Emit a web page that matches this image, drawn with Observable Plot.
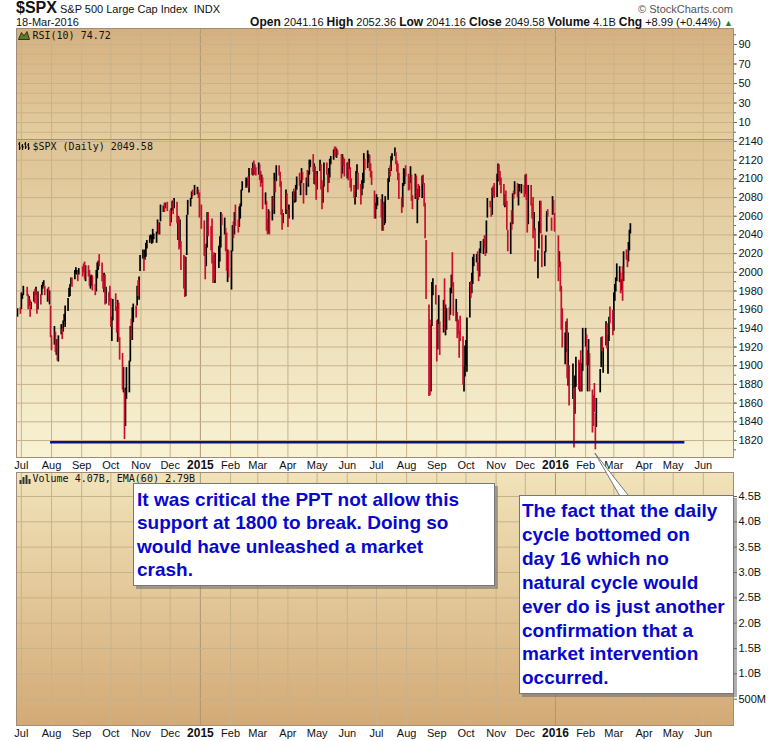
<!DOCTYPE html>
<html>
<head>
<meta charset="utf-8">
<script src="https://cdn.jsdelivr.net/npm/d3@7"></script>
<script src="https://cdn.jsdelivr.net/npm/@observablehq/plot@0.6"></script>
<style>
  html,body{margin:0;padding:0;background:#fff;}
  #wrap{position:relative;width:780px;height:741px;overflow:hidden;font-family:"Liberation Sans",Arial,sans-serif;color:#111;}
  .abs{position:absolute;white-space:nowrap;}
  .note{position:absolute;background:#fff;border:1px solid #777;box-shadow:3px 3px 0 rgba(110,110,110,0.55);color:#0808cc;font-weight:bold;font-size:19px;font-family:"Liberation Sans",Arial,sans-serif;box-sizing:border-box;}
  .note div{white-space:nowrap;}
</style>
</head>
<body>
<div id="wrap"></div>
<script>
// ---------------- data ----------------
const symbol = "$SPX";
const indexName = "S&P 500 Large Cap Index";
const exchange = "INDX";
const asOf = "18-Mar-2016";
const quoteLabels = ["Open", "High", "Low", "Close", "Volume", "Chg"];
const quoteValues = ["2041.16", "2052.36", "2041.16", "2049.58", "4.1B", "+8.99 (+0.44%)"];
const rsiLabel = "RSI(10) 74.72";
const priceLabel = "$SPX (Daily) 2049.58";
const volumeLabel = "Volume 4.07B, EMA(60) 2.79B";

const firstDay = "2014-06-27";
const lastDay = "2016-03-18";
const holidays = ["2014-07-04","2014-09-01","2014-11-27","2014-12-25","2015-01-01","2015-01-19","2015-02-16","2015-04-03","2015-05-25","2015-07-03","2015-09-07","2015-11-26","2015-12-25","2016-01-01","2016-01-18","2016-02-15"];

// daily highs, lows, closes (one line per month)
const highs = [
1961,1962,
1978,1976,1985,1984,1976,1974,1970,1968,1979,1982,1984,1979,1979,1976,1986,1989,1991,1985,1982,1984,1980,1964,
1932,1942,1936,1928,1928,1932,1944,1939,1948,1955,1964,1972,1983,1987,1994,1994,2002,2005,2002,1998,2004,
2006,2009,2011,2007,2007,2002,1996,1997,1996,1987,2002,2010,2012,2019,2010,1995,1999,1997,1984,1978,1985,
1972,1952,1971,1977,1963,1970,1967,1930,1913,1898,1874,1876,1898,1905,1942,1950,1962,1966,1964,1985,1991,1995,2018,
2024,2015,2024,2031,2034,2039,2040,2039,2046,2041,2043,2056,2052,2053,2072,2071,2074,2074,2075,
2066,2068,2076,2077,2079,2075,2060,2059,2056,2033,2018,2017,2016,2061,2077,2079,2086,2088,2093,2091,2088,2085,
2072,2055,2030,2030,2064,2064,2049,2057,2018,2021,2020,2028,2038,2064,2062,2058,2047,2042,2024,2023,
2023,2050,2054,2064,2072,2056,2070,2073,2088,2097,2101,2100,2102,2111,2111,2117,2119,2115,2112,
2117,2115,2108,2104,2101,2085,2076,2057,2067,2065,2081,2080,2106,2098,2114,2114,2107,2097,2067,2063,2088,2084,
2067,2072,2086,2089,2086,2093,2102,2106,2098,2111,2107,2095,2101,2109,2108,2120,2120,2126,2116,2113,2105,
2108,2120,2115,2098,2092,2117,2117,2105,2111,2121,2124,2131,2134,2134,2132,2130,2126,2126,2123,2121,
2117,2118,2121,2112,2100,2093,2085,2108,2115,2106,2094,2098,2106,2127,2121,2130,2126,2125,2116,2108,2087,2074,
2083,2080,2078,2083,2074,2075,2081,2100,2111,2114,2124,2127,2133,2128,2119,2116,2106,2080,2095,2111,2110,2114,
2105,2102,2113,2104,2082,2105,2103,2089,2094,2092,2103,2104,2095,2074,2034,1965,1949,1943,1989,1993,1986,
1948,1949,1975,1947,1970,1993,1965,1961,1962,1983,1997,2021,1989,1971,1957,1949,1937,1953,1931,1899,1921,
1927,1951,1989,1990,1999,2016,2019,2019,2022,2010,2025,2033,2035,2039,2039,2055,2079,2076,2070,2090,2092,2095,
2105,2116,2115,2108,2101,2094,2083,2087,2076,2045,2053,2066,2084,2087,2097,2095,2094,2094,2094,2093,
2104,2105,2086,2093,2093,2073,2080,2064,2047,2023,2054,2076,2076,2040,2022,2039,2065,2067,2058,2081,2077,2063,
2039,2022,2011,1985,1961,1935,1947,1950,1935,1900,1902,1876,1889,1909,1906,1903,1916,1902,1940,
1940,1933,1916,1928,1913,1874,1868,1881,1849,1865,1896,1930,1931,1919,1947,1945,1932,1952,1963,1959,
1978,1987,1994,2009,2006,1999,1992,2006,2022,2024,2018,2032,2045,2052
];
const lows = [
1952,1955,
1960,1971,1975,1974,1960,1964,1952,1960,1968,1966,1975,1955,1960,1965,1975,1982,1985,1975,1968,1969,1965,1930,
1916,1922,1914,1911,1905,1904,1933,1928,1936,1947,1941,1958,1973,1974,1987,1984,1992,1998,1997,1990,1997,
1995,1999,1992,1990,1995,1985,1982,1985,1980,1975,1979,1993,2002,2006,1990,1982,1978,1965,1966,1964,1968,
1941,1926,1948,1958,1935,1925,1927,1906,1874,1871,1821,1835,1864,1871,1904,1927,1927,1946,1951,1964,1974,1970,2001,
2014,2001,2013,2016,2025,2031,2035,2030,2031,2035,2031,2041,2040,2040,2054,2064,2064,2068,2065,
2049,2053,2066,2062,2068,2052,2034,2024,2026,2002,1982,1973,1974,2018,2061,2070,2078,2081,2082,2083,2079,2058,
2046,2017,1992,2006,2026,2038,2023,2009,1988,1991,1988,2004,2011,2026,2050,2040,2022,2001,1989,1994,
1981,2022,2036,2040,2049,2042,2048,2057,2070,2087,2090,2092,2090,2085,2104,2103,2109,2104,2103,
2104,2098,2091,2095,2067,2072,2044,2040,2041,2040,2055,2066,2062,2085,2097,2103,2091,2061,2045,2052,2062,2067,
2048,2057,2056,2076,2074,2075,2088,2092,2082,2095,2098,2073,2082,2095,2091,2104,2112,2107,2094,2093,2077,
2088,2108,2088,2067,2074,2091,2104,2085,2095,2101,2115,2120,2124,2123,2122,2125,2100,2105,2113,2102,
2100,2098,2110,2090,2086,2079,2072,2080,2105,2088,2072,2082,2089,2095,2109,2111,2117,2108,2101,2093,2057,2057,
2067,2071,2058,2044,2044,2050,2052,2077,2096,2102,2108,2119,2124,2115,2107,2098,2078,2063,2069,2092,2094,2102,
2087,2088,2095,2076,2067,2078,2080,2052,2077,2080,2079,2094,2070,2036,1971,1867,1868,1872,1942,1975,1965,
1904,1917,1944,1911,1935,1937,1932,1938,1948,1954,1977,1984,1953,1947,1929,1933,1908,1926,1879,1872,1888,
1900,1893,1951,1972,1977,1987,2006,2010,2001,1990,1995,2020,2019,2026,2017,2020,2058,2069,2059,2061,2081,2079,
2080,2097,2098,2093,2084,2071,2069,2074,2045,2022,2019,2045,2051,2078,2083,2080,2071,2086,2084,2080,
2083,2077,2042,2051,2071,2057,2036,2044,2011,1993,2025,2043,2041,2005,2006,2021,2043,2059,2044,2061,2062,2043,
1990,2005,1979,1938,1919,1901,1914,1886,1878,1857,1864,1812,1848,1877,1874,1872,1872,1872,1894,
1920,1900,1872,1900,1872,1828,1835,1850,1810,1834,1871,1898,1915,1892,1921,1918,1891,1926,1945,1932,
1937,1969,1979,1990,1989,1977,1980,1969,1990,2013,2005,2011,2023,2041
];
const closes = [
1961,1960,
1973,1975,1985,1977,1963,1973,1965,1968,1977,1974,1981,1959,1978,1973,1983,1987,1988,1978,1978,1970,1970,1931,
1925,1938,1920,1920,1910,1931,1936,1933,1947,1955,1955,1972,1982,1986,1992,1988,1997,2000,2000,1996,2003,
2002,2000,1998,2007,2001,1988,1996,1997,1985,1984,1999,2001,2011,2010,1994,1982,1998,1965,1982,1977,1972,
1946,1946,1967,1964,1935,1968,1928,1906,1874,1877,1862,1863,1886,1904,1941,1927,1950,1964,1961,1985,1982,1994,2018,
2018,2012,2023,2031,2032,2039,2039,2039,2039,2040,2041,2052,2048,2052,2064,2069,2068,2073,2068,
2054,2066,2074,2071,2075,2060,2060,2026,2035,2002,1990,1973,2013,2061,2071,2078,2083,2081,2089,2091,2080,2059,
2058,2021,2003,2026,2062,2045,2029,2024,2012,1993,2019,2023,2032,2063,2052,2057,2029,2002,2021,1995,
2021,2050,2041,2063,2055,2047,2069,2069,2088,2097,2100,2100,2098,2110,2109,2116,2114,2111,2105,
2117,2108,2099,2101,2071,2079,2044,2040,2065,2053,2081,2075,2099,2089,2108,2104,2092,2062,2057,2061,2086,2068,
2060,2067,2081,2076,2082,2091,2102,2092,2095,2106,2105,2081,2100,2097,2107,2112,2117,2108,2114,2106,2086,
2108,2115,2089,2081,2088,2116,2105,2099,2099,2121,2123,2129,2128,2126,2131,2126,2104,2123,2121,2107,
2112,2110,2114,2095,2093,2080,2080,2105,2109,2094,2085,2097,2101,2121,2110,2122,2124,2108,2102,2101,2058,2063,
2077,2077,2068,2081,2047,2052,2077,2100,2109,2107,2124,2127,2128,2119,2114,2102,2080,2068,2093,2109,2109,2104,
2098,2094,2100,2084,2078,2104,2084,2086,2083,2092,2102,2097,2079,2036,1971,1893,1868,1940,1988,1989,1972,
1914,1949,1951,1921,1970,1942,1952,1961,1953,1978,1996,1990,1958,1967,1943,1939,1932,1931,1882,1884,1920,
1924,1951,1987,1979,1996,2014,2015,2017,2004,1994,2024,2033,2033,2031,2019,2052,2075,2071,2066,2090,2089,2079,
2104,2109,2102,2100,2099,2079,2081,2075,2045,2023,2053,2051,2084,2082,2089,2087,2089,2089,2090,2080,
2103,2080,2050,2092,2077,2064,2048,2053,2012,2022,2043,2073,2041,2006,2021,2038,2064,2061,2056,2078,2063,2044,
2012,2016,1990,1943,1922,1924,1938,1890,1921,1880,1881,1859,1869,1907,1878,1903,1883,1893,1940,
1940,1903,1912,1915,1880,1853,1852,1851,1829,1865,1896,1927,1917,1918,1946,1921,1929,1952,1948,1932,
1978,1987,1994,2000,2001,1980,1990,1989,2022,2020,2016,2027,2041,2050
];

const supportLevel = 1818;
const supportFrom = "2014-07-31";
const supportTo = "2016-05-13";
const calloutDate = "2016-02-11";
const calloutLevel = 1806;

const priceTicks = [1820,1840,1860,1880,1900,1920,1940,1960,1980,2000,2020,2040,2060,2080,2100,2120,2140];
const rsiTicks = [10,30,50,70,90];
const rsiGrid = [0,10,20,30,40,50,60,70,80,90,100];
const volumeTicks = [0.5e9,1.0e9,1.5e9,2.0e9,2.5e9,3.0e9,3.5e9,4.0e9,4.5e9];
const monthNames = ["Jan","Feb","Mar","Apr","May","Jun","Jul","Aug","Sep","Oct","Nov","Dec"];

const note1Lines = ["It was critical the PPT not allow this","support at 1800 to break. Doing so","would have unleashed a market","crash."];
const note2Lines = ["The fact that the daily","cycle bottomed on","day 16 which no","natural cycle would","ever do is just another","confirmation that a","market intervention","occurred."];

// ---------------- build rows ----------------
const utc = s => new Date(s + "T00:00:00Z");
const dates = [];
for (let d = utc(firstDay); d <= utc(lastDay); d = new Date(d.getTime() + 864e5)) {
  const wd = d.getUTCDay();
  const s = d.toISOString().slice(0, 10);
  if (wd === 0 || wd === 6 || holidays.includes(s)) continue;
  dates.push(d);
}
if (dates.length !== closes.length) console.error("length mismatch", dates.length, closes.length);
const rows = dates.map((date, i) => ({date, high: highs[i], low: lows[i], close: closes[i], up: i === 0 || closes[i] >= closes[i - 1]}));
const upRows = rows.filter(r => r.up), downRows = rows.filter(r => !r.up);

const xDomain = [utc("2014-06-26"), utc("2016-07-02")];
const monthTicks = d3.utcMonths(utc("2014-07-01"), utc("2016-06-02"));
const yearTicks = monthTicks.filter(d => d.getUTCMonth() === 0);
const otherMonths = monthTicks.filter(d => d.getUTCMonth() !== 0);

const W = 780, ML = 16, MR = 47;
const gridC = "#c8b28b", yearC = "#ad9676", frameC = "#a08c78";
const font = "'Liberation Sans', Arial, sans-serif";
const mono = "'DejaVu Sans Mono', monospace";

function bg(id, c1, c2) {
  return (index, scales, values, dims) => {
    const g = d3.create("svg:g");
    const grad = g.append("defs").append("linearGradient").attr("id", id).attr("x1", 0).attr("y1", 0).attr("x2", 0).attr("y2", 1);
    grad.append("stop").attr("offset", "0%").attr("stop-color", c1);
    grad.append("stop").attr("offset", "100%").attr("stop-color", c2);
    g.append("rect").attr("x", dims.marginLeft).attr("y", dims.marginTop)
      .attr("width", dims.width - dims.marginLeft - dims.marginRight)
      .attr("height", dims.height - dims.marginTop - dims.marginBottom)
      .attr("fill", `url(#${id})`);
    return g.node();
  };
}
function monthGrid() {
  return [
    Plot.gridX(otherMonths, {stroke: gridC, strokeOpacity: 1}),
    Plot.gridX(yearTicks, {stroke: yearC, strokeOpacity: 1})
  ];
}
function monthLabels(dy) {
  return [
    Plot.text(otherMonths, {x: d => d, text: d => monthNames[d.getUTCMonth()], frameAnchor: "bottom", dy, fontSize: 11, fill: "#111", textAnchor: "middle", lineAnchor: "middle"}),
    Plot.text(yearTicks, {x: d => d, text: d => String(d.getUTCFullYear()), frameAnchor: "bottom", dy, fontSize: 12, fontWeight: "bold", fill: "#111", textAnchor: "middle", lineAnchor: "middle"})
  ];
}
const baseStyle = {fontFamily: font, fontSize: "11px", background: "transparent", overflow: "visible", color: "#111"};
const plain = d => String(d);

// RSI panel (28 -> 139)
const rsiPlot = Plot.plot({
  width: W, height: 111, marginTop: 0, marginBottom: 0, marginLeft: ML, marginRight: MR,
  x: {type: "utc", domain: xDomain, axis: null},
  y: {domain: [10 - 17 / 0.975, 90 + 16 / 0.975], axis: null},
  style: baseStyle,
  marks: [
    bg("gRsi", "#d5b07f", "#e4cd9f"),
    ...monthGrid(),
    Plot.gridY(rsiGrid, {stroke: gridC, strokeOpacity: 1}),
    Plot.axisY(rsiGrid, {anchor: "right", tickSize: 2, tickFormat: () => "", stroke: "#666"}),
    Plot.axisY(rsiTicks, {anchor: "right", tickSize: 3, tickPadding: 2, fontSize: 11, stroke: "#666", fill: "#111", label: null, tickFormat: plain}),
    Plot.frame({stroke: frameC}),
    Plot.text([rsiLabel], {frameAnchor: "top-left", dx: 16, dy: 3, fontFamily: mono, fontSize: 10, fill: "#111"})
  ]
});

// Price panel (139 -> 457, labels below)
const pricePlot = Plot.plot({
  width: W, height: 334, marginTop: 0, marginBottom: 16, marginLeft: ML, marginRight: MR,
  x: {type: "utc", domain: xDomain, axis: null},
  y: {domain: [1820 - 17 / 0.934, 2140 + 2 / 0.934], axis: null},
  style: baseStyle,
  marks: [
    bg("gPrice", "#dec394", "#f8f2d3"),
    ...monthGrid(),
    Plot.gridY(priceTicks, {stroke: gridC, strokeOpacity: 1}),
    Plot.ruleX(upRows, {x: "date", y1: "low", y2: "high", stroke: "#000", strokeWidth: 1.7}),
    Plot.ruleX(downRows, {x: "date", y1: "low", y2: "high", stroke: "#c8102e", strokeWidth: 1.7}),
    Plot.ruleY([supportLevel], {x1: utc(supportFrom), x2: utc(supportTo), stroke: "#10108c", strokeWidth: 2.5}),
    Plot.axisY(d3.range(1810, 2141, 10), {anchor: "right", tickSize: 2, tickFormat: () => "", stroke: "#666"}),
    Plot.axisY(priceTicks, {anchor: "right", tickSize: 3, tickPadding: 2, fontSize: 11, stroke: "#666", fill: "#111", label: null, tickFormat: plain}),
    Plot.frame({stroke: frameC}),
    ...monthLabels(8),
    Plot.text([priceLabel], {frameAnchor: "top-left", dx: 16, dy: 3, fontFamily: mono, fontSize: 10, fill: "#111"})
  ]
});

// Volume panel (472 -> 725, labels below)
const volPlot = Plot.plot({
  width: W, height: 269, marginTop: 0, marginBottom: 16, marginLeft: ML, marginRight: MR,
  x: {type: "utc", domain: xDomain, axis: null},
  y: {domain: [-1 / 50.67 * 1e9, (4.5 + 24 / 50.67) * 1e9], axis: null},
  style: baseStyle,
  marks: [
    bg("gVol", "#f1e3ba", "#d3aa76"),
    ...monthGrid(),
    Plot.gridY(volumeTicks, {stroke: gridC, strokeOpacity: 1}),
    Plot.axisY(volumeTicks, {anchor: "right", tickSize: 3, tickPadding: 2, fontSize: 11, stroke: "#666", fill: "#111", label: null,
      tickFormat: v => v < 1e9 ? (v / 1e6) + "M" : (v / 1e9).toFixed(1) + "B"}),
    Plot.frame({stroke: frameC}),
    ...monthLabels(8),
    Plot.text([volumeLabel], {frameAnchor: "top-left", dx: 16, dy: 2, fontFamily: mono, fontSize: 10, fill: "#111"})
  ]
});

const wrap = document.getElementById("wrap");
function put(el, top) { el.style.position = "absolute"; el.style.left = "0px"; el.style.top = top + "px"; wrap.appendChild(el); }
put(rsiPlot, 28);
put(pricePlot, 139);
put(volPlot, 472);

// header
function html(s) { const t = document.createElement("template"); t.innerHTML = s.trim(); return t.content.firstChild; }
const esc = s => s.replace(/&/g, "&amp;").replace(/</g, "&lt;");
wrap.appendChild(html(`<div class="abs" style="left:16px;top:0px;line-height:16px;"><span style="font-size:16px;font-weight:bold;">${esc(symbol)}</span><span style="font-size:11px;"> ${esc(indexName)}&nbsp; ${esc(exchange)}</span></div>`));
wrap.appendChild(html(`<div class="abs" style="left:16px;top:16px;line-height:12px;font-size:11px;">${esc(asOf)}</div>`));
wrap.appendChild(html(`<div class="abs" style="right:47px;top:3px;line-height:12px;font-size:11px;color:#555;">&copy; StockCharts.com</div>`));
const quote = quoteLabels.map((l, i) => `<b style="font-size:12px;">${l}</b> ${esc(quoteValues[i])}`).join(" ");
wrap.appendChild(html(`<div class="abs" style="right:47px;top:15px;line-height:14px;font-size:11px;">${quote} <span style="color:#2d7d2d;font-size:9px;">&#9650;</span></div>`));

// small panel icons
wrap.appendChild(html(`<svg class="abs" style="left:18px;top:30px;" width="12" height="10"><path d="M0.5,9.5 L3.5,2.5 L6,6 L9,1.5 L11.5,9.5 Z" fill="#5d7a2a" stroke="#2b3b10" stroke-width="1"/></svg>`));
wrap.appendChild(html(`<svg class="abs" style="left:18px;top:141px;" width="12" height="10"><path d="M1.5,1 V9 M4.5,3 V9 M7.5,1 V8 M10.5,2 V9 M0,3 H1.5 M1.5,7 H3 M3,5 H4.5 M4.5,6 H6 M6,3 H7.5 M7.5,6 H9 M9,4 H10.5 M10.5,7 H12" stroke="#111" stroke-width="1.2" fill="none"/></svg>`));
wrap.appendChild(html(`<svg class="abs" style="left:19px;top:474px;" width="12" height="10"><path d="M1.5,10 V6 M4.5,10 V3 M7.5,10 V1 M10.5,10 V5" stroke="#333" stroke-width="2" fill="none"/></svg>`));

// callout tail (points to the Feb 2016 low), drawn above the panels
const px = pricePlot.scale("x"), py = pricePlot.scale("y");
const tipX = px.apply(utc(calloutDate)), tipY = 139 + py.apply(calloutLevel);
wrap.appendChild(html(`<svg class="abs" style="left:0;top:0;pointer-events:none;" width="780" height="741"><path d="M${tipX},${tipY} L${tipX + 25},496 L${tipX + 34},496 Z" fill="#fff" stroke="#777" stroke-width="1"/></svg>`));

// notes
const n1 = html(`<div class="note" style="left:133px;top:483px;width:362px;height:103px;padding:4px 0 0 3px;line-height:23.3px;"></div>`);
note1Lines.forEach(l => { const d = document.createElement("div"); d.textContent = l; n1.appendChild(d); });
wrap.appendChild(n1);
const n2 = html(`<div class="note" style="left:519px;top:495px;width:215px;height:199px;padding:3px 0 0 2px;line-height:23.9px;"></div>`);
note2Lines.forEach(l => { const d = document.createElement("div"); d.textContent = l; n2.appendChild(d); });
wrap.appendChild(n2);
</script>
</body>
</html>
